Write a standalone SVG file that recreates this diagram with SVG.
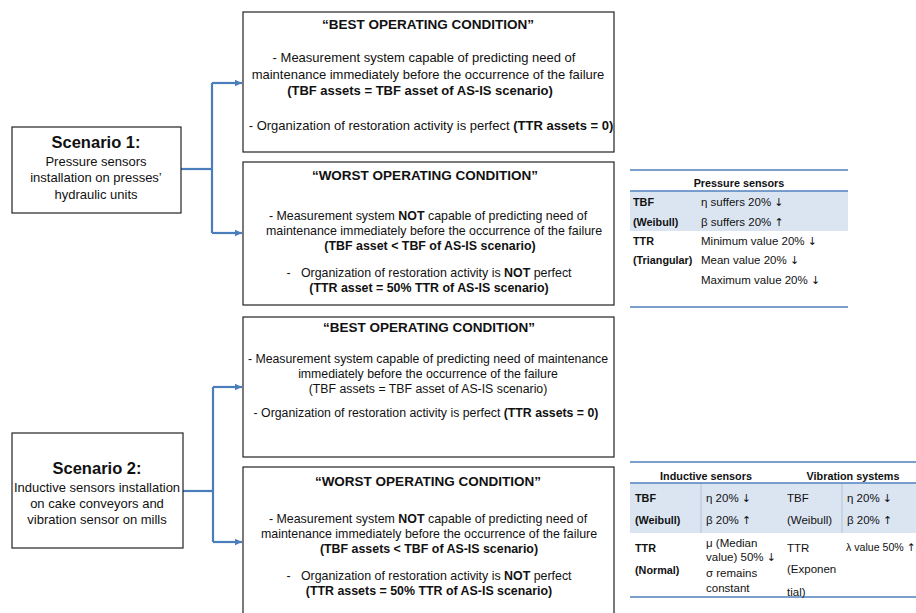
<svg xmlns="http://www.w3.org/2000/svg" width="916" height="613" viewBox="0 0 916 613">
<style>
text{font-family:"Liberation Sans",Arial,sans-serif;fill:#111;}
.box{fill:#fff;stroke:#222;stroke-width:1.2;}
.t{font-weight:bold;font-size:13.5px;text-anchor:middle;}
.b{font-size:13px;text-anchor:middle;}
.b3{font-size:12.3px;text-anchor:middle;}
.w{font-size:12.4px;text-anchor:middle;}
.sh{font-weight:bold;font-size:16.5px;text-anchor:middle;}
.sb{font-size:13px;text-anchor:middle;}
.bold{font-weight:bold;}
.ar{font-family:"DejaVu Sans",sans-serif;font-size:11px;}
.conn{fill:none;stroke:#4a7ebb;stroke-width:2.2;}
.tl{stroke:#4f81bd;stroke-width:1.5;}
.shade{fill:#dbe5f1;}
.th{font-weight:bold;font-size:10.8px;}
.td{font-size:11.5px;}
.thc{font-weight:bold;font-size:10.8px;text-anchor:middle;}
.sep{stroke:#b3c3d9;stroke-width:1;}
</style>
<defs>
<marker id="arr" markerWidth="8" markerHeight="8" refX="7" refY="4" orient="auto" markerUnits="userSpaceOnUse">
<path d="M0,0.8 L7,4 L0,7.2 Z" fill="#4a7ebb"/>
</marker>
</defs>

<g id="connectors">
<path class="conn" d="M181,169 H212"/>
<path class="conn" d="M212,83 V233"/>
<path class="conn" d="M212,83 H242" marker-end="url(#arr)"/>
<path class="conn" d="M212,233 H242" marker-end="url(#arr)"/>
<path class="conn" d="M183,491 H213"/>
<path class="conn" d="M213,387 V542"/>
<path class="conn" d="M213,387 H242" marker-end="url(#arr)"/>
<path class="conn" d="M213,542 H242" marker-end="url(#arr)"/>
</g>

<g id="scenario1">
<rect class="box" x="12" y="127" width="169" height="86"/>
<text class="sh" x="96" y="148">Scenario 1:</text>
<text class="sb" x="96" y="166">Pressure sensors</text>
<text class="sb" x="96" y="182">installation on presses’</text>
<text class="sb" x="96" y="199">hydraulic units</text>
</g>

<g id="best1">
<rect class="box" x="243" y="12" width="371" height="140"/>
<text class="t" x="428" y="29">“BEST OPERATING CONDITION”</text>
<text class="b" x="424" y="62">- Measurement system capable of predicting need of</text>
<text class="b" x="428" y="79">maintenance immediately before the occurrence of the failure</text>
<text class="b bold" x="420" y="95">(TBF assets = TBF asset of AS-IS scenario)</text>
<text class="b" x="431" y="130">- Organization of restoration activity is perfect <tspan class="bold">(TTR assets = 0)</tspan></text>
</g>

<g id="worst1">
<rect class="box" x="243" y="162" width="371" height="143"/>
<text class="t" x="425" y="180">“WORST OPERATING CONDITION”</text>
<text class="w" x="428" y="220">- Measurement system <tspan class="bold">NOT</tspan> capable of predicting need of</text>
<text class="w" x="434" y="235">maintenance immediately before the occurrence of the failure</text>
<text class="w bold" x="430" y="250">(TBF asset &lt; TBF of AS-IS scenario)</text>
<text class="w" x="429" y="277" xml:space="preserve">-   Organization of restoration activity is <tspan class="bold">NOT</tspan> perfect</text>
<text class="w bold" x="429" y="292">(TTR asset = 50% TTR of AS-IS scenario)</text>
</g>

<g id="scenario2">
<rect class="box" x="12" y="433" width="171" height="115"/>
<text class="sh" x="97" y="474">Scenario 2:</text>
<text class="sb" x="97" y="492">Inductive sensors installation</text>
<text class="sb" x="97" y="508">on cake conveyors and</text>
<text class="sb" x="97" y="524">vibration sensor on mills</text>
</g>

<g id="best2">
<rect class="box" x="243" y="317" width="371" height="140"/>
<text class="t" x="429" y="332">“BEST OPERATING CONDITION”</text>
<text class="b3" x="428" y="363">- Measurement system capable of predicting need of maintenance</text>
<text class="b3" x="428" y="378">immediately before the occurrence of the failure</text>
<text class="b3" x="428" y="393">(TBF assets = TBF asset of AS-IS scenario)</text>
<text class="b3" x="426" y="417">- Organization of restoration activity is perfect <tspan class="bold">(TTR assets = 0)</tspan></text>
</g>

<g id="worst2">
<rect class="box" x="243" y="467" width="371" height="160"/>
<text class="t" x="428" y="486">“WORST OPERATING CONDITION”</text>
<text class="w" x="428" y="523">- Measurement system <tspan class="bold">NOT</tspan> capable of predicting need of</text>
<text class="w" x="429" y="538">maintenance immediately before the occurrence of the failure</text>
<text class="w bold" x="429" y="553">(TBF assets &lt; TBF of AS-IS scenario)</text>
<text class="w" x="429" y="580" xml:space="preserve">-   Organization of restoration activity is <tspan class="bold">NOT</tspan> perfect</text>
<text class="w bold" x="429" y="595">(TTR assets = 50% TTR of AS-IS scenario)</text>
</g>

<g id="table1">
<rect class="shade" x="630" y="191" width="218" height="40"/>
<line class="tl" x1="630" y1="170" x2="848" y2="170"/>
<line class="tl" x1="630" y1="191" x2="848" y2="191"/>
<line class="tl" x1="630" y1="307" x2="848" y2="307"/>
<text class="thc" x="739" y="187">Pressure sensors</text>
<text class="th" x="633" y="206">TBF</text>
<text class="th" x="633" y="226">(Weibull)</text>
<text class="th" x="633" y="245">TTR</text>
<text class="th" x="633" y="264">(Triangular)</text>
<text class="td" x="701" y="206">η suffers 20% <tspan class="ar">↓</tspan></text>
<text class="td" x="701" y="226">β suffers 20% <tspan class="ar">↑</tspan></text>
<text class="td" x="701" y="245">Minimum value 20% <tspan class="ar">↓</tspan></text>
<text class="td" x="701" y="264">Mean value 20% <tspan class="ar">↓</tspan></text>
<text class="td" x="701" y="284">Maximum value 20% <tspan class="ar">↓</tspan></text>
</g>

<g id="table2">
<rect class="shade" x="630" y="483" width="286" height="50"/>
<line class="sep" x1="701" y1="483" x2="701" y2="533"/>
<line class="sep" x1="842" y1="483" x2="842" y2="533"/>
<line class="tl" x1="630" y1="462" x2="916" y2="462"/>
<line class="tl" x1="630" y1="483" x2="916" y2="483"/>
<line class="tl" x1="630" y1="597" x2="916" y2="597"/>
<text class="thc" x="706" y="480">Inductive sensors</text>
<text class="thc" x="853" y="480">Vibration systems</text>
<text class="th" x="635" y="502">TBF</text>
<text class="th" x="635" y="524">(Weibull)</text>
<text class="th" x="635" y="552">TTR</text>
<text class="th" x="635" y="574">(Normal)</text>
<text class="td" x="706" y="502">η 20% <tspan class="ar">↓</tspan></text>
<text class="td" x="706" y="524">β 20% <tspan class="ar">↑</tspan></text>
<text class="td" x="706" y="547">μ (Median</text>
<text class="td" x="706" y="561">value) 50% <tspan class="ar">↓</tspan></text>
<text class="td" x="706" y="577">σ remains</text>
<text class="td" x="706" y="592">constant</text>
<text class="td" x="787" y="502">TBF</text>
<text class="td" x="787" y="524">(Weibull)</text>
<text class="td" x="787" y="552">TTR</text>
<text class="td" x="787" y="573">(Exponen</text>
<text class="td" x="787" y="596">tial)</text>
<text class="td" x="847" y="502">η 20% <tspan class="ar">↓</tspan></text>
<text class="td" x="847" y="524">β 20% <tspan class="ar">↑</tspan></text>
<text class="td" x="846" y="551" style="font-size:10.6px">λ value 50% <tspan class="ar" style="font-size:10.6px">↑</tspan></text>
</g>
</svg>
